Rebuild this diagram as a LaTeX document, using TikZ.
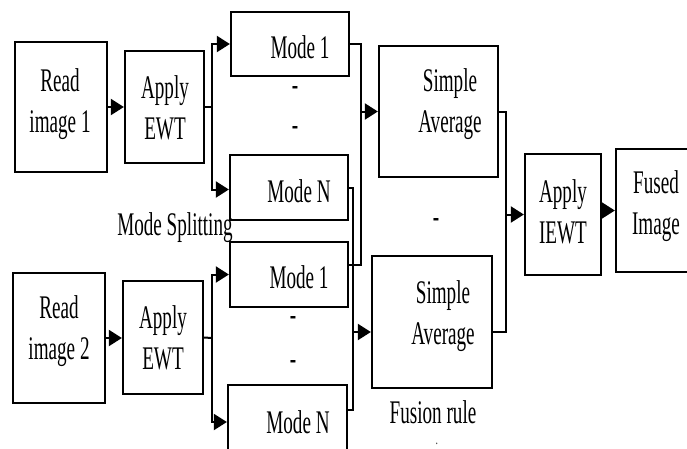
\documentclass[tikz,border=0pt]{standalone}
\usepackage{fontspec}
\setmainfont{Liberation Serif}[FakeStretch=0.58]
\usetikzlibrary{arrows.meta,calc}
\begin{document}
\begin{tikzpicture}[x=1pt,y=-1pt,
  box/.style={draw,line width=2.3pt,inner sep=0pt},
  lbl/.style={align=center,inner sep=0pt,font=\fontsize{33}{41}\selectfont},
  conn/.style={line width=2pt},
  arr/.style={conn,-{Triangle[length=13pt,width=16pt]}},
  dotmark/.style={inner sep=0pt,anchor=base,font=\fontsize{33}{41}\selectfont}]
\clip (0,0) rectangle (687,448);
\fill[white] (0,0) rectangle (687,448);
% boxes
\node[box,minimum width=92pt,minimum height=130pt] (r1) at (61,107) {};
\node[box,minimum width=79pt,minimum height=112pt] (a1) at (164.5,107) {};
\node[box,minimum width=118pt,minimum height=64pt] (m1) at (290,44) {};
\node[box,minimum width=118pt,minimum height=65pt] (n1) at (289,187.5) {};
\node[box,minimum width=92pt,minimum height=130pt] (r2) at (59,338) {};
\node[box,minimum width=80pt,minimum height=113pt] (a2) at (163,337.5) {};
\node[box,minimum width=118pt,minimum height=65pt] (m2) at (289,274.5) {};
\node[box,minimum width=119pt,minimum height=74pt] (n2) at (287.5,422) {};
\node[box,minimum width=119pt,minimum height=131pt] (s1) at (438.5,111.5) {};
\node[box,minimum width=120pt,minimum height=132pt] (s2) at (432,322) {};
\node[box,minimum width=76pt,minimum height=121pt] (ie) at (563,214.5) {};
\node[box,minimum width=104pt,minimum height=123pt] (fu) at (668,210.5) {};
% labels
\node[lbl] (tr1) at (60,104) {Read\\image 1};
\node[lbl] (ta1) at (165,108) {Apply\\EWT};
\node[lbl] (tm1) at (300,47) {Mode 1};
\node[lbl] (tn1) at (299,191) {Mode N};
\node[lbl] (tr2) at (59,331) {Read\\image 2};
\node[lbl] (ta2) at (163,338) {Apply\\EWT};
\node[lbl] (tm2) at (299,277) {Mode 1};
\node[lbl] (tn2) at (298,422) {Mode N};
\node[lbl] (ts1) at (450,104) {Simple\\Average};
\node[lbl] (ts2) at (443,316) {Simple\\Average};
\node[lbl] (tie) at (563,212) {Apply\\IEWT};
\node[lbl] (tfu) at (656,206) {Fused\\Image};
\node[lbl] (tms) at (175,227.5) {Mode Splitting};
\node[lbl] (tfr) at (433,412.5) {Fusion rule};
% dots
\node[dotmark] (d1) at (295,95) {-};
\node[dotmark] (d2) at (295,135) {-};
\node[dotmark] (d3) at (293,325) {-};
\node[dotmark] (d4) at (293,369) {-};
\node[dotmark] (d5) at (436,227) {-};
\node[dotmark,font=\fontsize{14}{14}\selectfont] (d6) at (437,444) {.};
% junctions
\coordinate (j1) at (212,107);
\coordinate (j2) at (212,338);
\coordinate (v1) at (361,44);
\coordinate (v2) at (353,187.5);
\coordinate (v3) at (506,111.5);
% connectors
\draw[arr] (r1.east) -- (a1.west);
\draw[arr] (r2.east) -- (r2.east -| a2.west);
\draw[conn] (a1.east) -- (j1);
\draw[arr] (j1) |- (m1.west);
\draw[arr] (j1) |- ($(n1.west)+(0,2)$);
\draw[conn] (a2.east) -- (j2);
\draw[arr] (j2) |- (m2.west);
\draw[arr] (j2) |- (n2.west);
\draw[conn] (m1.east) -- (v1) |- ($(m2.east)+(0,-10)$);
\draw[arr] (v1 |- s1.west) -- (s1.west);
\draw[conn] (n1.east) -- (v2) |- ($(n2.east)+(0,-12)$);
\draw[arr] ($(v2 |- s2.west)+(0,10)$) -- ($(s2.west)+(0,10)$);
\draw[conn] (s1.east) -- (v3) |- ($(s2.east)+(0,10)$);
\draw[arr] (v3 |- ie.west) -- (ie.west);
\draw[arr] (ie.east |- fu.west) -- (fu.west);
\end{tikzpicture}
\end{document}
